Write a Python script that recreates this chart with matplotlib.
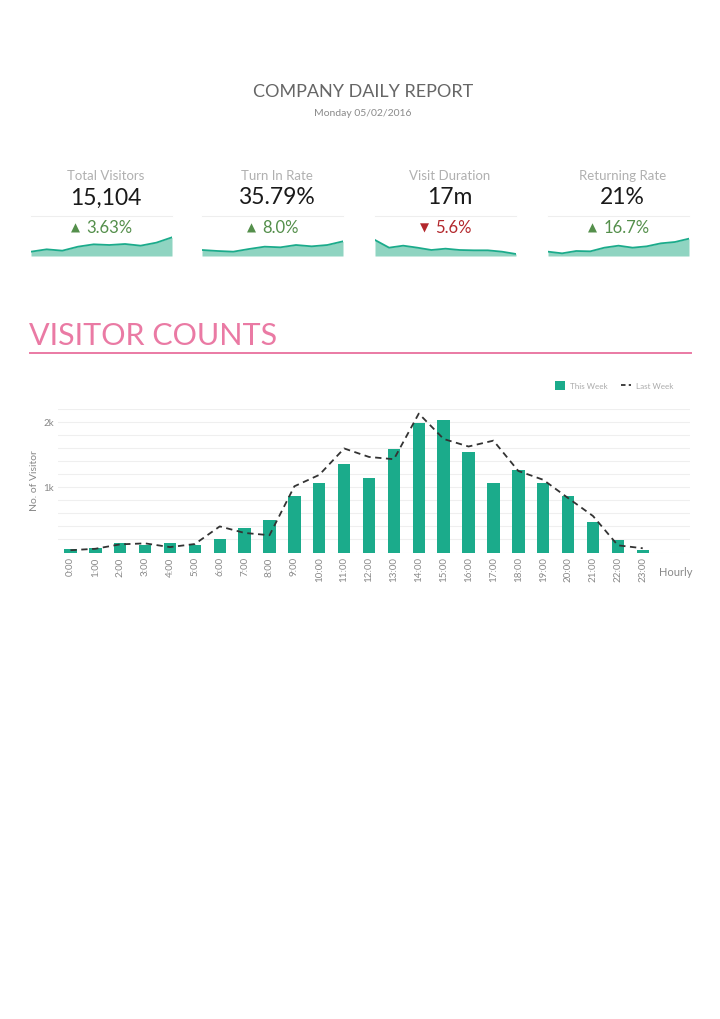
import matplotlib
matplotlib.use("Agg")
import matplotlib.pyplot as plt
from matplotlib.lines import Line2D
import numpy as np

plt.rcParams["font.family"] = ["Lato", "DejaVu Sans"]

W, H = 720, 1019

# ---------------- data ----------------
kpi_labels = ["Total Visitors", "Turn In Rate", "Visit Duration", "Returning Rate"]
kpi_values = ["15,104", "35.79%", "17m", "21%"]
kpi_changes = ["3.63%", "8.0%", "5.6%", "16.7%"]
kpi_up = [True, True, False, True]

spark_visitors = [13, 20, 16, 28, 35, 33, 36, 31, 40, 56]
spark_turnin = [18, 15, 13, 21, 28, 26, 33, 29, 33, 44]
spark_duration = [48, 25, 31, 25, 18, 22, 18, 17, 17, 13, 6]
spark_returning = [13, 8, 15, 14, 25, 31, 25, 29, 38, 42, 52]
sparks = [spark_visitors, spark_turnin, spark_duration, spark_returning]

hours = ["%d:00" % h for h in range(24)]
this_week = [50, 75, 140, 115, 140, 115, 200, 380, 500, 870, 1070, 1350,
             1140, 1585, 1985, 2035, 1545, 1060, 1270, 1060, 865, 465, 195, 45]
last_week = [35, 57, 125, 140, 83, 130, 400, 300, 265, 1015, 1190, 1595,
             1465, 1430, 2130, 1740, 1625, 1715, 1250, 1115, 835, 560, 110, 65]

TEAL = "#1bab8b"
TEAL_FILL = "#8fd4c1"
PINK = "#ea7aa4"
GREEN = "#548f4b"
RED = "#b3282d"


def ax_px(left, top, width, height):
    return fig.add_axes([left / W, 1 - (top + height) / H, width / W, height / H])


def txt(x, y, s, **kw):
    return fig.text(x / W, 1 - y / H, s, **kw)


def hline(x0, x1, y, **kw):
    fig.add_artist(Line2D([x0 / W, x1 / W], [1 - y / H, 1 - y / H],
                          transform=fig.transFigure, **kw))


fig = plt.figure(figsize=(W / 100, H / 100), dpi=100)
fig.patch.set_facecolor("white")

# ---------------- header ----------------
txt(363, 92, "COMPANY DAILY REPORT", ha="center", va="center", fontsize=13,
    color="#666666")
txt(363, 113, "Monday 05/02/2016", ha="center", va="center", fontsize=7.5,
    color="#8a8a8a")

# ---------------- KPI cards ----------------
card_left = [31, 202, 375, 548]
card_w = 141
renderer = fig.canvas.get_renderer()
for i in range(4):
    c = card_left[i] + card_w / 2
    txt(c + 4, 176, kpi_labels[i], ha="center", va="center", fontsize=9.5,
        color="#b0b0b0")
    txt(c + 4, 198, kpi_values[i], ha="center", va="center", fontsize=16.5,
        color="#1a1a1a")
    hline(card_left[i], card_left[i] + card_w, 215.5, color="#eeeeee", lw=0.8)
    col = GREEN if kpi_up[i] else RED
    t = txt(c + 8, 228, kpi_changes[i], ha="center", va="center", fontsize=12,
            color=col)
    bb = t.get_window_extent(renderer)
    tri_x = bb.x0 - 11
    fig.text(tri_x / W, 1 - 228 / H, "\u25B2" if kpi_up[i] else "\u25BC",
             ha="center", va="center", fontsize=8.5, color=col,
             family="DejaVu Sans")
    # sparkline
    s = sparks[i]
    sax = ax_px(card_left[i], 236, card_w, 20)
    xs = np.arange(len(s))
    sax.fill_between(xs, 0, s, color=TEAL_FILL, lw=0)
    sax.plot(xs, s, color=TEAL, lw=1.3)
    sax.set_xlim(0, len(s) - 1)
    sax.set_ylim(0, 60)
    sax.axis("off")

# ---------------- section title ----------------
txt(29, 336, "VISITOR COUNTS", ha="left", va="center", fontsize=22,
    color=PINK)
hline(30, 691, 353.5, color=PINK, lw=1.4)

# ---------------- bar chart ----------------
ax = ax_px(58, 409, 632, 143.5)
x = np.arange(len(hours))
bars = ax.bar(x, this_week, width=0.5, color=TEAL, zorder=3)
line, = ax.plot(x, last_week, color="#333333", ls=(0, (3.5, 2.5)), lw=1.3,
                zorder=4)
ax.set_xlim(-0.5, 24.9)
ax.set_ylim(0, 2200)
ax.set_yticks(np.arange(0, 2201, 200))
ax.set_yticklabels(["" if v not in (1000, 2000) else "%dk" % (v // 1000)
                    for v in range(0, 2201, 200)])
ax.grid(axis="y", color="#efefef", lw=0.8, zorder=0)
for sp in ax.spines.values():
    sp.set_visible(False)
ax.tick_params(axis="both", length=0, colors="#888888", labelsize=7)
ax.tick_params(axis="y", pad=3)
ax.set_xticks(x)
ax.set_xticklabels(hours, rotation=90, fontsize=7, color="#888888")
ax.set_ylabel("No. of Visitor", fontsize=7.5, color="#888888", labelpad=3)
txt(676, 572, "Hourly", ha="center", va="center", fontsize=8, color="#888888")
leg_line = Line2D([], [], color="#333333", ls=(0, (2.5, 1.8)), lw=1.3)
ax.legend([bars, leg_line], ["This Week", "Last Week"], loc="lower right",
          bbox_to_anchor=(0.985, 1.08), ncol=2, frameon=False, fontsize=5.8,
          labelcolor="#aaaaaa", handlelength=1.3, handleheight=1.3,
          columnspacing=1.6, handletextpad=0.6)

fig.savefig("out.png", dpi=100, facecolor="white")
